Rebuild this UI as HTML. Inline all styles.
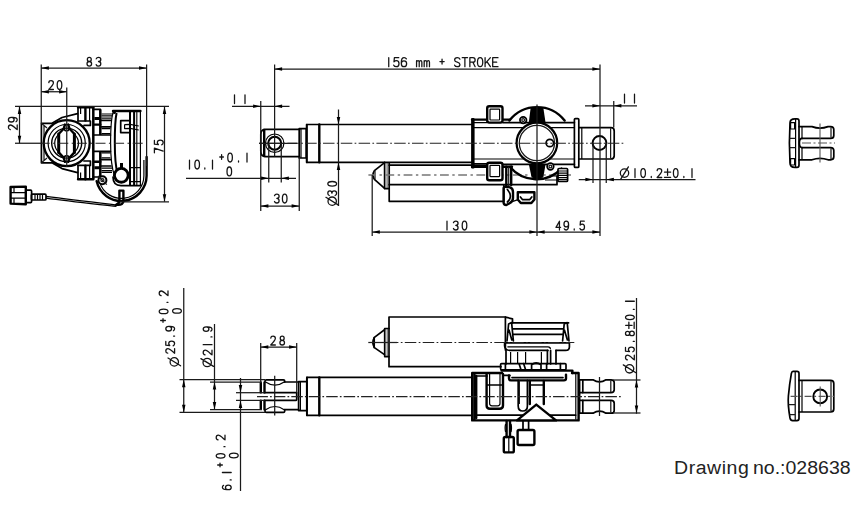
<!DOCTYPE html>
<html><head><meta charset="utf-8"><title>Drawing 028638</title>
<style>
html,body{margin:0;padding:0;background:#fff;}
body{width:860px;height:512px;overflow:hidden;position:relative;font-family:"Liberation Sans",sans-serif;}
svg{position:absolute;left:0;top:0;}
.n{stroke:#1a1a1a;stroke-width:1.25;fill:none;}
.g{stroke:#555;stroke-width:1.1;fill:none;}
.m{stroke:#000;stroke-width:1.2;fill:none;stroke-linejoin:round;}
.k{stroke:#000;stroke-width:1.7;fill:none;stroke-linejoin:round;stroke-linecap:round;}
.kk{stroke:#000;stroke-width:2.4;fill:none;stroke-linejoin:round;stroke-linecap:round;}
.w{fill:#fff;}
.f{fill:#000;stroke:none;}
.c{stroke:#222;stroke-width:1.05;fill:none;stroke-dasharray:11 2.5 2 2.5;}
.cg{stroke:#777;stroke-width:1.6;fill:none;stroke-dasharray:9.5 3 3 3;}
.t{stroke:#141414;stroke-width:1.28;fill:none;stroke-linecap:round;stroke-linejoin:round;}
.a{fill:#000;stroke:none;}
.cap{position:absolute;top:457.8px;font-size:17.6px;color:#222;white-space:nowrap;transform-origin:0 0;transform:scaleX(1.108);}
</style></head>
<body>
<svg width="860" height="512" viewBox="0 0 860 512">
<path class="kk" d="M96.6,181.1 A25.3,25.3 0 0 0 146.6,175.8 L146.6,157"/>
<path class="m" d="M99.7,182.4 A22.6,22.6 0 0 0 143.9,175.8 L143.9,160"/>
<path class="k" d="M41.4,123.3 L52,123.3 L62,117.5 L77.5,113.6 M41.4,123.3 L41.4,162.8 L52,162.8 L62,168.6 L77.5,172.6"/>
<path class="n" d="M44,126 L44,160 M41.4,123.3 L47,128 M41.4,162.8 L47,158"/>
<path class="kk" d="M78,107.2 L93.3,107.2 M78,179.2 L93.3,179.2"/>
<path class="k" d="M78,107.2 L78,121 M78,179.2 L78,165.4"/>
<path d="M93.3,107.2 L93.3,179.2" stroke="#000" stroke-width="2.5" fill="none"/>
<path class="kk" d="M85.4,107.2 L85.4,120.6 M85.4,179.2 L85.4,165.8"/>
<path class="m" d="M80.6,108 L80.6,114 M80.6,178.4 L80.6,172.4"/>
<path class="k" d="M78,121 L90.4,121 L90.4,125.4 L84,125.4 M78,165.4 L90.4,165.4 L90.4,161.0 L84,161.0"/>
<path class="m" d="M89.6,108 L89.6,121 M89.6,178.4 L89.6,165.4"/>
<path class="k" d="M93.3,109.4 L100.4,109.4 M93.3,177.0 L100.4,177.0"/>
<path d="M100.3,109.4 L100.3,135 M100.3,177.0 L100.3,151.4" stroke="#000" stroke-width="2.5" fill="none"/>
<path d="M94.4,118.6 L100.3,118.6 M94.4,167.8 L100.3,167.8" stroke="#000" stroke-width="3" fill="none"/>
<path class="kk" d="M94.4,124.6 L100.3,124.6 M94.4,161.8 L100.3,161.8"/>
<path class="k" d="M94.4,135 L110.4,135 M94.4,151.4 L110.4,151.4"/>
<path class="m" d="M101.5,114 L113.4,114 M101.5,115.8 L112.4,115.8 M101.5,118.2 L111.4,118.2 M101.5,172.4 L112,172.4 M101.5,170.6 L112,170.6 M101.5,168.2 L112,168.2"/>
<path class="k" d="M101.5,120.4 L110.6,120.4 M101.5,126.8 L110.4,126.8 M101.5,166.0 L111,166.0 M101.5,159.6 L110.6,159.6"/>
<path class="m" d="M101.5,128.6 L110.4,128.6 M101.5,133.6 L110.4,133.6 M101.5,157.8 L110.4,157.8 M101.5,152.8 L110.4,152.8"/>
<path class="kk" d="M113,111 L140.4,111"/>
<path class="m" d="M140.4,111 L140.4,186"/>
<path class="m" d="M113.4,111.4 C111,118 110.6,128 110.6,143 C110.6,158 111.6,168 114.6,176"/>
<path d="M116.6,113 C115,120 114.8,130 114.8,143 C114.8,156 115.4,166 117.6,174" stroke="#000" stroke-width="2" fill="none"/>
<circle class="f" cx="114.4" cy="112.6" r="1.5"/>
<path d="M130,111 L130,186 M134.1,111 L134.1,186" stroke="#000" stroke-width="2" fill="none"/>
<path class="n" d="M136.8,112 L136.8,186"/>
<path class="k" d="M130,120.6 L120.7,120.6 L120.7,132.6 L130,132.6"/>
<path class="m" d="M124.6,124.6 L130,124.4 L138.8,126 M124.6,124.6 L124.6,128.6 L130,128.4 L138.8,130"/>
<path class="m" d="M130,167.6 L140.4,167.6 M130,181.6 L140.4,181.6"/>
<circle class="w" cx="66.7" cy="143.1" r="23"/>
<circle cx="66.7" cy="143.1" r="23" fill="none" stroke="#000" stroke-width="2.3"/>
<circle class="m" cx="66.7" cy="143.1" r="18.6"/>
<circle cx="66.7" cy="143.1" r="15" fill="none" stroke="#000" stroke-width="1.4"/>
<path class="m" d="M58.2,134.8 A11.9,11.9 0 0 0 58.2,151.6 M75,134.8 A11.9,11.9 0 0 1 75,151.6"/>
<path d="M58.7,134 L58.7,152.4 M74.4,134 L74.4,152.4" stroke="#000" stroke-width="3" fill="none" stroke-linecap="round"/>
<path class="kk" d="M58.7,134 L63.6,128.8 L65,124.6 M74.4,134 L69.6,128.8 L68.2,124.6 M58.7,152.4 L63.6,157.6 L65,161.8 M74.4,152.4 L69.6,157.6 L68.2,161.8"/>
<path class="k" d="M63.6,128.8 L65.4,130.6 M69.6,128.8 L67.8,130.6 M63.6,157.6 L65.4,155.8 M69.6,157.6 L67.8,155.8"/>
<line class="c" x1="41" y1="143.2" x2="143" y2="143.2" style="stroke-dasharray:10 3.4 1.8 3.4;stroke-dashoffset:1.3"/>
<path class="f" d="M120,163 L120,168 L123,168 L123,163 Z"/>
<circle class="w" cx="121.3" cy="175.3" r="6.9"/>
<circle cx="121.3" cy="175.3" r="6.9" fill="none" stroke="#000" stroke-width="2.9"/>
<path class="k" d="M113,177 C113,182.6 116,185.6 121,185.6 L140.4,185.6"/>
<circle class="w" cx="102.4" cy="180.2" r="4"/>
<circle cx="102.4" cy="180.2" r="4" fill="none" stroke="#000" stroke-width="2"/>
<circle class="n" cx="102.4" cy="180.2" r="1.5"/>
<path class="n" d="M98,176 L106.8,184.6"/>
<path class="kk" d="M119.4,190.6 L123.4,190.6 L123.4,201.3 C123.4,203.5 121,204.8 118.4,204.8 L116,204.8 C118,204 119.4,203 119.4,200.5 Z"/>
<path class="m" d="M46,196.4 C70,199.6 95,202.4 117.8,205 M46,198.2 C70,201.6 95,204 116.5,206.4"/>
<rect class="k" x="31.4" y="194.2" width="14.6" height="5.8" rx="1"/>
<path class="m" d="M35,194.2 L35,200 M37.5,194.2 L37.5,200 M40,194.2 L40,200 M42.5,194.2 L42.5,200"/>
<rect class="k" x="25.8" y="190.2" width="5.8" height="12.4" rx="1"/>
<path class="kk" d="M10.6,187 L25.8,186.6 L25.8,204.2 L10.6,203.6 Z"/>
<path class="m" d="M10.6,192.6 L25.8,192.6 M10.6,198.2 L25.8,198.2 M14,187 L14,192.6 M14,198.2 L14,203.6"/>
<path class="k" d="M389.2,163 L389.2,201.3 L503.8,201.3 L503.8,185"/>
<path class="k" d="M389.2,184.7 L557,184.7 L557,176"/>
<path class="k" d="M389.2,165.2 L487,165.2"/>
<path class="k" d="M384.6,162.4 L384.6,188.6 M384.6,188.6 L389.2,188.6"/>
<path d="M387.1,163 L387.1,188" stroke="#222" stroke-width=".8" fill="none"/>
<path class="k" d="M384.6,162.6 L374.4,170.6 Q371.6,175 374.4,179.4 L384.6,188.4"/>
<path class="n" d="M375,170.6 L375,179.4"/>
<line class="cg" x1="368.4" y1="175" x2="571" y2="175" style="stroke-dasharray:8.8 3.5 2.4 3.5;stroke-dashoffset:1.2"/>
<path class="k" d="M299.5,129.4 L265.5,129.4 Q260.8,129.4 260.8,134.4 L260.8,151.6 Q260.8,156.6 265.5,156.6 L299.5,156.6"/>
<path class="kk" d="M264.2,130 L264.2,156"/>
<rect class="k" x="299.2" y="128.7" width="7" height="29.3" rx="0"/>
<path class="m" d="M301,128.8 L301,158"/>
<path class="k" d="M472,124.5 L306.6,124.5 L306.6,162.3 L472,162.3"/>
<path class="k" d="M306.9,124.5 L306.9,162.3"/>
<path class="kk" d="M319.3,124.5 L319.3,162.3"/>
<circle class="m" cx="274.7" cy="143.2" r="9.2"/>
<circle cx="274.7" cy="143.25" r="6.5" fill="none" stroke="#000" stroke-width="2.1"/>
<path class="kk" d="M509.4,120.6 A35,35 0 0 1 564.6,120.6"/>
<path class="kk" d="M510,167 A34.7,34.7 0 0 0 561.5,168.6"/>
<rect class="w" x="558" y="168.5" width="9.6" height="13" rx="0"/>
<rect class="k" x="558" y="168.5" width="9.6" height="13" rx="1"/>
<path class="m" d="M558,171 L567.6,171 M558,173.2 L567.6,173.2 M558,175.4 L567.6,175.4 M558,177.6 L567.6,177.6 M558,179.6 L567.6,179.6"/>
<path class="m" d="M545,180 L558,180 M552,176 L558,176"/>
<path class="kk" d="M472.3,119.2 L472.3,167.2"/>
<path class="kk" d="M473.4,119.2 L473.4,167.2"/>
<path class="kk" d="M472,119.6 L510,119.6 M472,166.8 L512,166.8"/>
<path class="k" d="M503,122.6 L574.4,122.6 M503,164.4 L574.4,164.4"/>
<path class="m" d="M474,127.7 L574.4,127.7 M474,159 L574.4,159"/>
<path class="m" d="M474,122.6 L487,122.6 M474,163.6 L487,163.6"/>
<rect class="k" x="574.4" y="118.6" width="4.4" height="48.8" rx="1"/>
<path class="k" d="M578.8,127.7 L611,127.7 Q614.2,127.7 614.2,131 L614.2,155.7 Q614.2,159 611,159 L578.8,159"/>
<path class="m" d="M581.8,127.7 L581.8,159"/>
<path class="n" d="M610.6,128.2 L610.6,158.5"/>
<circle class="w" cx="599.5" cy="143" r="6.9"/>
<circle cx="599.5" cy="143" r="6.9" fill="none" stroke="#000" stroke-width="2"/>
<rect class="w" x="487.2" y="106.2" width="15.3" height="16.4" rx="0"/>
<rect class="kk" x="487.2" y="106.2" width="15.3" height="16.4" rx="2"/>
<rect class="m" x="490" y="109.2" width="9.6" height="10.8" rx="0.5"/>
<rect class="w" x="487.2" y="162.8" width="15.3" height="17.4" rx="0"/>
<rect class="kk" x="487.2" y="162.8" width="15.3" height="17.4" rx="2"/>
<rect class="m" x="490" y="165.4" width="9.6" height="11.2" rx="0.5"/>
<path class="kk" d="M506.3,166.8 L506.3,187 M511.2,166.8 L511.2,185"/>
<path class="n" d="M508.7,167 L508.7,186"/>
<path class="f" d="M530.6,108.2 Q537,106 543.4,108.2 L545.6,123 L528.8,123 Z"/>
<path class="f" d="M528.8,164 L545.6,164 L543.3,177.6 Q537,179.8 531.6,177.6 Z"/>
<circle class="w" cx="536.9" cy="143" r="20.6"/>
<circle cx="536.9" cy="143" r="20.3" fill="none" stroke="#000" stroke-width="2.2"/>
<circle class="n" cx="536.9" cy="143" r="17.6"/>
<circle class="k" cx="549.8" cy="143" r="3.7"/>
<circle class="w" cx="523.2" cy="120.1" r="3.3"/>
<circle class="k" cx="523.2" cy="120.1" r="3.3"/>
<circle class="n" cx="523.2" cy="120.1" r="1.4"/>
<circle class="w" cx="550.4" cy="166.5" r="3.3"/>
<circle class="k" cx="550.4" cy="166.5" r="3.3"/>
<circle class="n" cx="550.4" cy="166.5" r="1.4"/>
<line class="n" x1="259" y1="143.25" x2="297" y2="143.25"/>
<line class="c" x1="259" y1="143.25" x2="624" y2="143.25" style="stroke-dasharray:11.5 2.3 1.7 2.3;stroke-dashoffset:7.2"/>
<path class="kk" d="M503.6,188.4 Q503.6,186.6 506,186.6 L510,187.4 Q513,188.4 513,192 L513,198 Q513,201.4 510,203 L506.4,205 Q503.6,205 503.6,202.6 Z"/>
<path class="k" d="M507.4,189.5 Q510.4,193 510.4,196 Q510.4,199.5 507.4,202"/>
<path class="m" d="M513,201.4 L518,199.6"/>
<path class="kk" d="M517.8,192.2 L534.4,192.2 L534.4,199.4 L531.4,203 L520.8,203 L517.8,199.4 Z"/>
<path class="k" d="M520.4,197 L522.4,199.6 L529.8,199.6 L531.8,197"/>
<path class="k" d="M389,317 L505.4,317 M389,317 L389,366.7 L501,366.7"/>
<path class="k" d="M384.7,328.5 L384.7,356.6 M384.7,328.5 L389,328.5 M384.7,356.6 L389,356.6"/>
<path d="M387.2,329 L387.2,356" stroke="#222" stroke-width=".8" fill="none"/>
<path class="k" d="M384.5,329.8 L374.4,337.4 Q371.4,342.5 374.4,347.6 L384.5,354.6"/>
<path class="k" d="M374.2,337.6 L374.2,347.4"/>
<path class="k" d="M505.4,317 L505.4,350 M505.4,317.2 L512.5,318.8 L512.5,323"/>
<path class="k" d="M512,322.8 L568.6,322.8 M513,328.8 L563,328.8 M513,334.4 L563,334.4"/>
<path class="k" d="M504.6,342.8 L569.4,342.8 L569.4,347 Q569.4,350.4 565.5,350.4 L556,350.4 M504.6,342.8 L504.6,346 Q505,350.4 510,350.4 L548,350.4"/>
<path class="m" d="M507.4,346.8 L548,346.8 Q550.4,346.8 550.4,349"/>
<path class="k" d="M507,341 L508.6,324 L511.6,322.6 L513.4,341 M509,330 L511.8,340 M562.6,341 L564.2,324 L567.2,322.6 L569,341 M564.4,330 L567.4,340"/>
<path class="k" d="M506,350.4 L506,364 M550.6,350.4 L550.6,364 M556,350.4 L556,364 M547.4,350.4 L547.4,364"/>
<path class="m" d="M510.6,352 L510.6,364 M517.6,352 L517.6,364 M525.6,352 L525.6,364 M541.4,352 L541.4,364"/>
<rect class="k" x="500.6" y="363.6" width="65.4" height="6.2" rx="1"/>
<path class="k" d="M505.4,363.6 L505.4,369.8 M519,363.6 L521,369.8 M523.6,363.6 L525.6,369.8 M531.6,364.8 L531.6,369.8 M531.6,364.8 Q536,361 541,364.8 L541,369.8 M546.6,363.6 L546.6,369.8 M560.4,363.6 L560.4,369.8"/>
<path class="kk" d="M501.6,370.6 L572.4,370.6 L572.4,373"/>
<path class="kk" d="M509,375.4 L509,378.6 Q509,380.4 511,380.4 L564,380.4 Q566,380.4 566,378.6 L566,374.6"/>
<path class="k" d="M503,375.4 L510,375.4 M512,377.6 L563,377.6"/>
<path class="kk" d="M472.2,373 L502,373 M572,373 L578.6,373 L578.6,420.4 L472.2,420.4 L472.2,373"/>
<path class="kk" d="M474.4,374 L474.4,419.6"/>
<path class="kk" d="M476.2,376 L476.2,418"/>
<path class="k" d="M475,376 L487,376 M475,415.2 L575.6,415.2"/>
<path class="m" d="M575.8,374 L575.8,419.6"/>
<path class="k" d="M472,377.4 L306.8,377.4 L306.8,415.3 L472,415.3"/>
<path class="k" d="M307,377.4 L307,415.3"/>
<path class="kk" d="M319.3,377.4 L319.3,415.3"/>
<rect class="k" x="298.6" y="381.6" width="8.2" height="29" rx="0"/>
<path class="m" d="M300.4,381.6 L300.4,410.6"/>
<path class="k" d="M298.6,382 L284.7,382 M298.6,409.6 L284.7,409.6"/>
<path class="kk" d="M260.8,383 L260.8,392.4 M264.5,382.4 L264.5,392.4 M260.8,400.8 L260.8,408.8 M264.5,400.8 L264.5,409.4"/>
<path class="k" d="M265,382 L265,381 Q265,379.8 266.4,379.8 L283.4,379.8 Q284.7,379.8 284.7,381 L284.7,382 M265,409.6 L265,411.2 Q265,412.4 266.4,412.4 L283.4,412.4 Q284.7,412.4 284.7,411.2 L284.7,409.6"/>
<path class="m" d="M265.6,382 Q275,388.4 284.2,382 M265.6,409.8 Q275,403.2 284.2,409.8"/>
<path class="k" d="M264.5,392.7 L296.7,392.7 L296.7,399.4 Q296.7,400.4 295.6,400.4 L264.5,400.4"/>
<path class="n" d="M274.7,375.7 L274.7,415.6"/>
<path class="kk" d="M486.6,374 L486.6,405.6 Q486.6,408.8 490,408.8 L499.6,408.8 Q503,408.8 503,405.6 L503,374"/>
<path class="m" d="M489.6,374 L489.6,403.6 Q489.6,405.8 492,405.8 L497.6,405.8 Q500,405.8 500,403.6 L500,374"/>
<path class="k" d="M487,385 L503,385"/>
<path class="k" d="M518.2,380.4 L518.2,406 Q518.2,411 522.8,411 Q527.4,411 527.4,406 L527.4,380.4"/>
<path class="kk" d="M529.8,381 L529.8,404 M543.8,381 L543.8,404"/>
<path class="k" d="M529.8,385 L543.8,385"/>
<path class="n" d="M519.4,380.4 L519.4,404"/>
<path class="w" d="M536.3,404.6 L517,420.4 L556,420.4 Z"/>
<path class="kk" d="M536.3,404.6 L517,420.4 L556,420.4 Z"/>
<path class="k" d="M579.6,379.8 L593,379.8 Q599.5,384 606,379.8 L611,379.8 Q614.2,379.8 614.2,382.6 L614.2,389.8 Q614.2,392.6 611,392.6 L606,392.6 Q599.5,392.6 593,392.6 L579.6,392.6"/>
<path class="k" d="M579.6,400.4 L593,400.4 Q599.5,400.4 606,400.4 L611,400.4 Q614.2,400.4 614.2,403.2 L614.2,410.4 Q614.2,413.2 611,413.2 L606,413.2 Q599.5,409 593,413.2 L579.6,413.2"/>
<path class="k" d="M579.6,379.8 L579.6,413.2 M582.8,379.8 L582.8,392.6 M582.8,400.4 L582.8,413.2"/>
<path class="n" d="M610.8,380.4 L610.8,392 M610.8,401 L610.8,412.6"/>
<path class="n" d="M599.5,377 L599.5,416"/>
<line class="c" x1="257" y1="396.6" x2="621" y2="396.6" style="stroke-dasharray:11.5 2.15 1.7 2.1;stroke-dashoffset:0.6"/>
<line class="n" x1="368.3" y1="342.5" x2="397" y2="342.5"/>
<line class="c" x1="368.3" y1="342.5" x2="574.3" y2="342.5" style="stroke-dasharray:11.5 2.4 1.7 2.3;stroke-dashoffset:17.2"/>
<path class="kk" d="M506.6,421 L506.6,437 M510,421 L510,437"/>
<path class="m" d="M505.6,424 Q504.6,428 505.6,432 M511,424 Q512,428 511,432"/>
<rect class="kk" x="503.8" y="437" width="10" height="15.4" rx="1.5"/>
<path class="m" d="M508.8,437 L508.8,452.4"/>
<path class="k" d="M523,421 L523,430 M528.6,421 L528.6,430"/>
<rect class="kk" x="517.6" y="430" width="16.8" height="15" rx="1.5"/>
<path class="k" d="M795,118.8 Q790,118.8 790,123 L789.4,143 L790,163 Q790,167.4 795,167.4 L797,167.4 Q799,167.4 799,165 L799,121 Q799,118.8 797,118.8 Z"/>
<path class="m" d="M795.6,118.8 L795.6,167.4"/>
<rect class="m" x="790.6" y="122.6" width="4" height="6.4" rx="0"/>
<rect class="m" x="790.6" y="158.6" width="4" height="6.4" rx="0"/>
<path class="n" d="M789.6,138.4 L795.6,138.4 M789.6,147.6 L795.6,147.6"/>
<path class="k" d="M799,126.6 L812,126.6 Q820,129.6 828,126.6 L830.6,126.6 Q833.8,126.6 833.8,129.6 L833.8,135.4 Q833.8,138.4 830.6,138.4 L828,138.4 Q820,138.4 812,138.4 L802,138.4"/>
<path class="k" d="M799,159.8 L812,159.8 Q820,156.8 828,159.8 L830.6,159.8 Q833.8,159.8 833.8,156.8 L833.8,150.6 Q833.8,147.6 830.6,147.6 L828,147.6 Q820,147.6 812,147.6 L802,147.6"/>
<path class="k" d="M802,138.4 Q799.4,138.4 799.4,143 Q799.4,147.6 802,147.6"/>
<path class="m" d="M802,126.6 L802,138.4 M802,147.6 L802,159.8"/>
<path class="n" d="M831,127.2 L831,137.8 M831,148.2 L831,159.2"/>
<line class="g" x1="820" y1="123.5" x2="820" y2="162.5"/>
<line class="g" x1="802" y1="143" x2="835" y2="143" style="stroke-dasharray:9 2.5 2 2.5"/>
<path class="k" d="M793,371.4 L797,371.4 Q799,371.4 799,373.4 L799,418.6 Q799,420.6 797,420.6 L792.6,420.6 Q790.6,420.6 790,418 Q787.6,404 788.4,396 Q789.6,383 791.4,373.4 Q791.8,371.4 793,371.4 Z"/>
<path class="m" d="M795.2,371.6 L795.2,420.4"/>
<path class="n" d="M788.6,404.6 L795.2,404.6 M789.6,414.6 L795.2,414.6"/>
<path class="k" d="M799,380.4 L830.6,380.4 Q833.8,380.4 833.8,383.4 L833.8,409 Q833.8,412 830.6,412 L799,412"/>
<path class="m" d="M802,380.4 L802,412"/>
<path class="n" d="M831,381 L831,411.4"/>
<circle cx="820.2" cy="396.4" r="6.9" fill="none" stroke="#000" stroke-width="1.9"/>
<line class="g" x1="820.2" y1="386.4" x2="820.2" y2="406.6"/>
<line class="g" x1="790.6" y1="396.4" x2="835" y2="396.4" style="stroke-dasharray:7 2.5 2 2.5"/>
<line class="n" x1="41.25" y1="64.5" x2="41.25" y2="123.5"/>
<line class="n" x1="146.6" y1="64.5" x2="146.6" y2="166"/>
<line class="n" x1="41.25" y1="68" x2="146.6" y2="68"/>
<polygon class="a" points="41.25,68.00 48.85,66.25 48.85,69.75"/>
<polygon class="a" points="146.60,68.00 139.00,66.25 139.00,69.75"/>
<path class="t" d="M 89.30,61.51 C 88.03,61.51 87.34,60.63 87.34,59.45 C 87.34,58.28 88.03,57.40 89.30,57.40 C 90.56,57.40 91.25,58.28 91.25,59.45 C 91.25,60.63 90.56,61.51 89.30,61.51 C 87.92,61.51 87.00,62.39 87.00,63.85 C 87.00,65.32 87.92,66.20 89.30,66.20 C 90.68,66.20 91.60,65.32 91.60,63.85 C 91.60,62.39 90.68,61.51 89.30,61.51 M 96.20,58.87 C 96.55,57.84 97.35,57.40 98.50,57.40 C 99.88,57.40 100.80,58.13 100.80,59.45 C 100.80,60.92 99.88,61.51 98.50,61.51 C 100.00,61.51 100.80,62.39 100.80,63.85 C 100.80,65.32 99.88,66.20 98.50,66.20 C 97.35,66.20 96.55,65.76 96.20,64.73"/>
<line class="n" x1="66.75" y1="87.5" x2="66.75" y2="167"/>
<line class="n" x1="41.25" y1="91.75" x2="66.75" y2="91.75"/>
<polygon class="a" points="41.25,91.75 48.85,90.00 48.85,93.50"/>
<polygon class="a" points="66.75,91.75 59.15,90.00 59.15,93.50"/>
<path class="t" d="M 48.80,82.61 C 48.91,81.29 49.83,80.70 51.10,80.70 C 52.48,80.70 53.40,81.43 53.40,82.90 C 53.40,84.37 52.25,85.39 48.80,89.50 L 53.40,89.50 M 59.50,89.50 C 58.12,89.50 57.20,88.03 57.20,85.10 C 57.20,82.17 58.12,80.70 59.50,80.70 C 60.88,80.70 61.80,82.17 61.80,85.10 C 61.80,88.03 60.88,89.50 59.50,89.50 Z"/>
<line class="n" x1="15" y1="106.4" x2="169" y2="106.4"/>
<line class="n" x1="15" y1="143.25" x2="41" y2="143.25"/>
<line class="n" x1="19.5" y1="106.4" x2="19.5" y2="143.25"/>
<polygon class="a" points="19.50,106.40 17.75,114.00 21.25,114.00"/>
<polygon class="a" points="19.50,143.25 17.75,135.65 21.25,135.65"/>
<path class="t" d="M 10.31,129.60 C 8.99,129.48 8.40,128.56 8.40,127.30 C 8.40,125.92 9.13,125.00 10.60,125.00 C 12.07,125.00 13.09,126.15 17.20,129.60 L 17.20,125.00 M 16.03,121.77 C 16.76,121.42 17.20,120.73 17.20,119.81 C 17.20,118.32 15.44,117.40 12.80,117.40 L 11.33,117.40 C 9.57,117.40 8.40,118.32 8.40,119.70 C 8.40,121.08 9.57,122.00 11.33,122.00 C 13.09,122.00 14.12,121.08 14.12,119.70 C 14.12,118.32 12.95,117.40 11.33,117.40"/>
<line class="n" x1="164.5" y1="106.4" x2="164.5" y2="201.75"/>
<polygon class="a" points="164.50,106.40 162.75,114.00 166.25,114.00"/>
<polygon class="a" points="164.50,201.75 162.75,194.15 166.25,194.15"/>
<line class="n" x1="120" y1="201.75" x2="169" y2="201.75"/>
<path class="t" d="M 154.40,152.80 L 154.40,148.20 L 163.20,151.08 M 154.40,140.43 L 154.40,144.22 L 158.36,144.57 C 157.63,143.88 157.33,143.19 157.33,142.50 C 157.33,141.12 158.51,140.20 160.27,140.20 C 162.03,140.20 163.20,141.12 163.20,142.50 C 163.20,143.65 162.61,144.45 161.73,144.80"/>
<line class="n" x1="274.6" y1="64.5" x2="274.6" y2="156.6"/>
<line class="n" x1="600" y1="64.5" x2="600" y2="236"/>
<line class="n" x1="274.5" y1="69" x2="600" y2="69"/>
<polygon class="a" points="274.50,69.00 282.10,67.25 282.10,70.75"/>
<polygon class="a" points="600.00,69.00 592.40,67.25 592.40,70.75"/>
<path class="t" d="M 388.75,66.70 L 388.75,57.70 M 398.75,57.70 L 394.38,57.70 L 393.98,61.75 C 394.77,61.00 395.57,60.70 396.36,60.70 C 397.95,60.70 399.01,61.90 399.01,63.70 C 399.01,65.50 397.95,66.70 396.36,66.70 C 395.04,66.70 394.11,66.10 393.71,65.20 M 406.36,58.90 C 405.97,58.15 405.17,57.70 404.11,57.70 C 402.39,57.70 401.33,59.50 401.33,62.20 L 401.33,63.70 C 401.33,65.50 402.39,66.70 403.98,66.70 C 405.57,66.70 406.63,65.50 406.63,63.70 C 406.63,61.90 405.57,60.85 403.98,60.85 C 402.39,60.85 401.33,62.05 401.33,63.70 M 416.56,66.70 L 416.56,60.70 M 416.56,62.20 C 416.95,61.15 417.35,60.70 418.01,60.70 C 418.81,60.70 419.21,61.30 419.21,62.20 L 419.21,66.70 M 419.21,62.20 C 419.60,61.15 420.00,60.70 420.66,60.70 C 421.46,60.70 421.86,61.30 421.86,62.20 L 421.86,66.70 M 424.17,66.70 L 424.17,60.70 M 424.17,62.20 C 424.57,61.15 424.97,60.70 425.63,60.70 C 426.42,60.70 426.82,61.30 426.82,62.20 L 426.82,66.70 M 426.82,62.20 C 427.22,61.15 427.62,60.70 428.28,60.70 C 429.07,60.70 429.47,61.30 429.47,62.20 L 429.47,66.70 M 439.93,61.60 L 444.17,61.60 M 442.05,64.00 L 442.05,59.20 M 459.93,59.20 C 459.53,58.15 458.60,57.70 457.28,57.70 C 455.69,57.70 454.63,58.60 454.63,59.95 C 454.63,61.30 455.69,61.75 457.28,62.20 C 458.87,62.65 459.93,63.10 459.93,64.45 C 459.93,65.80 458.87,66.70 457.28,66.70 C 455.95,66.70 455.03,66.25 454.63,65.20 M 462.24,57.70 L 467.54,57.70 M 464.89,57.70 L 464.89,66.70 M 469.86,66.70 L 469.86,57.70 L 472.90,57.70 C 474.36,57.70 475.16,58.60 475.16,59.95 C 475.16,61.30 474.36,62.20 472.90,62.20 L 469.86,62.20 M 472.90,62.20 L 475.16,66.70 M 480.12,66.70 C 478.53,66.70 477.47,65.20 477.47,62.20 C 477.47,59.20 478.53,57.70 480.12,57.70 C 481.71,57.70 482.77,59.20 482.77,62.20 C 482.77,65.20 481.71,66.70 480.12,66.70 Z M 485.09,66.70 L 485.09,57.70 M 490.39,57.70 L 485.09,63.70 M 486.94,61.60 L 490.39,66.70 M 498.00,57.70 L 492.70,57.70 L 492.70,66.70 L 498.00,66.70 M 492.70,62.20 L 496.68,62.20"/>
<line class="n" x1="232" y1="106.25" x2="289.5" y2="106.25"/>
<polygon class="a" points="260.75,106.25 253.15,104.50 253.15,108.00"/>
<polygon class="a" points="274.50,106.25 282.10,104.50 282.10,108.00"/>
<line class="n" x1="260.75" y1="101" x2="260.75" y2="211"/>
<path class="t" d="M 234.50,103.60 L 234.50,94.80 M 245.00,103.60 L 245.00,94.80"/>
<line class="n" x1="186" y1="178.25" x2="296" y2="178.25"/>
<polygon class="a" points="268.75,178.25 261.15,176.50 261.15,180.00"/>
<polygon class="a" points="281.25,178.25 288.85,176.50 288.85,180.00"/>
<line class="n" x1="268.75" y1="143" x2="268.75" y2="182.5"/>
<line class="n" x1="281.25" y1="143" x2="281.25" y2="182.5"/>
<path class="t" d="M 189.50,169.00 L 189.50,160.20 M 197.17,169.00 C 195.79,169.00 194.87,167.53 194.87,164.60 C 194.87,161.67 195.79,160.20 197.17,160.20 C 198.55,160.20 199.47,161.67 199.47,164.60 C 199.47,167.53 198.55,169.00 197.17,169.00 Z M 204.83,169.00 L 204.83,167.97 M 212.50,169.00 L 212.50,160.20"/>
<path class="t" d="M 219.76,157.01 L 223.44,157.01 M 221.60,159.36 L 221.60,154.67 M 230.07,162.00 C 228.69,162.00 227.77,160.53 227.77,157.60 C 227.77,154.67 228.69,153.20 230.07,153.20 C 231.45,153.20 232.37,154.67 232.37,157.60 C 232.37,160.53 231.45,162.00 230.07,162.00 Z M 238.53,162.00 L 238.53,160.97 M 247.00,162.00 L 247.00,153.20"/>
<path class="t" d="M 229.30,175.80 C 227.92,175.80 227.00,174.33 227.00,171.40 C 227.00,168.47 227.92,167.00 229.30,167.00 C 230.68,167.00 231.60,168.47 231.60,171.40 C 231.60,174.33 230.68,175.80 229.30,175.80 Z"/>
<line class="n" x1="260.75" y1="206" x2="299.25" y2="206"/>
<polygon class="a" points="260.75,206.00 268.35,204.25 268.35,207.75"/>
<polygon class="a" points="299.25,206.00 291.65,204.25 291.65,207.75"/>
<line class="n" x1="299.25" y1="157" x2="299.25" y2="211"/>
<path class="t" d="M 274.50,195.67 C 274.85,194.64 275.65,194.20 276.80,194.20 C 278.18,194.20 279.10,194.93 279.10,196.25 C 279.10,197.72 278.18,198.31 276.80,198.31 C 278.30,198.31 279.10,199.19 279.10,200.65 C 279.10,202.12 278.18,203.00 276.80,203.00 C 275.65,203.00 274.85,202.56 274.50,201.53 M 284.70,203.00 C 283.32,203.00 282.40,201.53 282.40,198.60 C 282.40,195.67 283.32,194.20 284.70,194.20 C 286.08,194.20 287.00,195.67 287.00,198.60 C 287.00,201.53 286.08,203.00 284.70,203.00 Z"/>
<line class="n" x1="338.5" y1="109.5" x2="338.5" y2="206"/>
<polygon class="a" points="338.50,124.60 336.75,117.00 340.25,117.00"/>
<polygon class="a" points="338.50,162.30 336.75,169.90 340.25,169.90"/>
<path class="t" d="M328.0,201.2 a4.2,4.2 0 1 0 8.4,0 a4.2,4.2 0 1 0 -8.4,0 M338.5,205.1 L325.9,197.29999999999998"/>
<path class="t" d="M 329.27,195.50 C 328.24,195.16 327.80,194.35 327.80,193.20 C 327.80,191.82 328.53,190.90 329.85,190.90 C 331.32,190.90 331.91,191.82 331.91,193.20 C 331.91,191.71 332.79,190.90 334.25,190.90 C 335.72,190.90 336.60,191.82 336.60,193.20 C 336.60,194.35 336.16,195.16 335.13,195.50 M 336.60,183.80 C 336.60,185.18 335.13,186.10 332.20,186.10 C 329.27,186.10 327.80,185.18 327.80,183.80 C 327.80,182.42 329.27,181.50 332.20,181.50 C 335.13,181.50 336.60,182.42 336.60,183.80 Z"/>
<line class="n" x1="585" y1="105.75" x2="637" y2="105.75"/>
<polygon class="a" points="600.00,105.75 592.40,104.00 592.40,107.50"/>
<polygon class="a" points="613.75,105.75 621.35,104.00 621.35,107.50"/>
<line class="n" x1="613.75" y1="101" x2="613.75" y2="127.5"/>
<path class="t" d="M 624.50,103.00 L 624.50,94.20 M 634.50,103.00 L 634.50,94.20"/>
<line class="n" x1="578.75" y1="179.5" x2="695.5" y2="179.5"/>
<polygon class="a" points="593.00,179.50 585.40,177.75 585.40,181.25"/>
<polygon class="a" points="606.25,179.50 613.85,177.75 613.85,181.25"/>
<line class="n" x1="593" y1="143" x2="593" y2="183"/>
<line class="n" x1="606.25" y1="143" x2="606.25" y2="183"/>
<path class="t" d="M620.3,173.1 a4.2,4.2 0 1 0 8.4,0 a4.2,4.2 0 1 0 -8.4,0 M620.6,179.4 L628.4,166.79999999999998"/>
<path class="t" d="M 635.00,177.50 L 635.00,168.70 M 643.14,177.50 C 641.76,177.50 640.84,176.03 640.84,173.10 C 640.84,170.17 641.76,168.70 643.14,168.70 C 644.52,168.70 645.44,170.17 645.44,173.10 C 645.44,176.03 644.52,177.50 643.14,177.50 Z M 651.29,177.50 L 651.29,176.47 M 657.13,170.61 C 657.24,169.29 658.16,168.70 659.43,168.70 C 660.81,168.70 661.73,169.43 661.73,170.90 C 661.73,172.37 660.58,173.39 657.13,177.50 L 661.73,177.50 M 664.47,172.07 L 670.68,172.07 M 667.57,175.30 L 667.57,168.85 M 664.47,177.35 L 670.68,177.35 M 675.71,177.50 C 674.33,177.50 673.41,176.03 673.41,173.10 C 673.41,170.17 674.33,168.70 675.71,168.70 C 677.09,168.70 678.01,170.17 678.01,173.10 C 678.01,176.03 677.09,177.50 675.71,177.50 Z M 683.86,177.50 L 683.86,176.47 M 692.00,177.50 L 692.00,168.70"/>
<line class="n" x1="372.2" y1="175" x2="372.2" y2="236"/>
<line class="n" x1="537" y1="104.5" x2="537" y2="236"/>
<line class="n" x1="372.2" y1="232" x2="600" y2="232"/>
<polygon class="a" points="372.20,232.00 379.80,230.25 379.80,233.75"/>
<polygon class="a" points="537.00,232.00 529.40,230.25 529.40,233.75"/>
<polygon class="a" points="537.00,232.00 544.60,230.25 544.60,233.75"/>
<polygon class="a" points="600.00,232.00 592.40,230.25 592.40,233.75"/>
<path class="t" d="M 447.00,230.00 L 447.00,221.20 M 453.45,222.67 C 453.80,221.64 454.60,221.20 455.75,221.20 C 457.13,221.20 458.05,221.93 458.05,223.25 C 458.05,224.72 457.13,225.31 455.75,225.31 C 457.25,225.31 458.05,226.19 458.05,227.65 C 458.05,229.12 457.13,230.00 455.75,230.00 C 454.60,230.00 453.80,229.56 453.45,228.53 M 464.50,230.00 C 463.12,230.00 462.20,228.53 462.20,225.60 C 462.20,222.67 463.12,221.20 464.50,221.20 C 465.88,221.20 466.80,222.67 466.80,225.60 C 466.80,228.53 465.88,230.00 464.50,230.00 Z"/>
<path class="t" d="M 559.45,230.00 L 559.45,221.20 L 556.00,227.36 L 560.60,227.36 M 564.20,228.83 C 564.54,229.56 565.23,230.00 566.15,230.00 C 567.65,230.00 568.57,228.24 568.57,225.60 L 568.57,224.13 C 568.57,222.37 567.65,221.20 566.27,221.20 C 564.89,221.20 563.97,222.37 563.97,224.13 C 563.97,225.89 564.89,226.92 566.27,226.92 C 567.65,226.92 568.57,225.75 568.57,224.13 M 574.23,230.00 L 574.23,228.97 M 584.27,221.20 L 580.48,221.20 L 580.13,225.16 C 580.82,224.43 581.51,224.13 582.20,224.13 C 583.58,224.13 584.50,225.31 584.50,227.07 C 584.50,228.83 583.58,230.00 582.20,230.00 C 581.05,230.00 580.25,229.41 579.90,228.53"/>
<line class="n" x1="183.75" y1="288" x2="183.75" y2="412.4"/>
<polygon class="a" points="183.75,379.60 182.00,387.20 185.50,387.20"/>
<polygon class="a" points="183.75,412.40 182.00,404.80 185.50,404.80"/>
<line class="n" x1="179.5" y1="379.6" x2="265" y2="379.6"/>
<line class="n" x1="179.5" y1="412.4" x2="265" y2="412.4"/>
<line class="n" x1="214.5" y1="324" x2="214.5" y2="409.6"/>
<polygon class="a" points="214.50,382.00 212.75,389.60 216.25,389.60"/>
<polygon class="a" points="214.50,409.60 212.75,402.00 216.25,402.00"/>
<line class="n" x1="210" y1="382" x2="262" y2="382"/>
<line class="n" x1="210" y1="409.6" x2="262" y2="409.6"/>
<line class="n" x1="240.5" y1="378" x2="240.5" y2="491"/>
<polygon class="a" points="240.50,392.70 238.75,385.10 242.25,385.10"/>
<polygon class="a" points="240.50,400.40 238.75,408.00 242.25,408.00"/>
<line class="n" x1="236" y1="392.7" x2="264.5" y2="392.7"/>
<line class="n" x1="236" y1="400.4" x2="264.5" y2="400.4"/>
<line class="n" x1="260.7" y1="343" x2="260.7" y2="383"/>
<line class="n" x1="296.7" y1="343" x2="296.7" y2="392.7"/>
<line class="n" x1="260.7" y1="347" x2="296.7" y2="347"/>
<polygon class="a" points="260.70,347.00 268.30,345.25 268.30,348.75"/>
<polygon class="a" points="296.70,347.00 289.10,345.25 289.10,348.75"/>
<path class="t" d="M 270.75,338.11 C 270.87,336.79 271.79,336.20 273.05,336.20 C 274.43,336.20 275.35,336.93 275.35,338.40 C 275.35,339.87 274.20,340.89 270.75,345.00 L 275.35,345.00 M 282.20,340.31 C 280.94,340.31 280.25,339.43 280.25,338.25 C 280.25,337.08 280.94,336.20 282.20,336.20 C 283.46,336.20 284.15,337.08 284.15,338.25 C 284.15,339.43 283.46,340.31 282.20,340.31 C 280.82,340.31 279.90,341.19 279.90,342.65 C 279.90,344.12 280.82,345.00 282.20,345.00 C 283.58,345.00 284.50,344.12 284.50,342.65 C 284.50,341.19 283.58,340.31 282.20,340.31"/>
<path class="t" d="M170.10000000000002,361.9 a4.2,4.2 0 1 0 8.4,0 a4.2,4.2 0 1 0 -8.4,0 M180.60000000000002,365.79999999999995 L168.0,358.0"/>
<path class="t" d="M 167.71,353.20 C 166.39,353.08 165.80,352.16 165.80,350.90 C 165.80,349.52 166.53,348.60 168.00,348.60 C 169.47,348.60 170.49,349.75 174.60,353.20 L 174.60,348.60 M 165.80,341.43 L 165.80,345.23 L 169.76,345.57 C 169.03,344.88 168.73,344.19 168.73,343.50 C 168.73,342.12 169.91,341.20 171.67,341.20 C 173.43,341.20 174.60,342.12 174.60,343.50 C 174.60,344.65 174.01,345.45 173.13,345.80 M 174.60,336.10 L 173.57,336.10 M 173.43,330.77 C 174.16,330.43 174.60,329.74 174.60,328.81 C 174.60,327.32 172.84,326.40 170.20,326.40 L 168.73,326.40 C 166.97,326.40 165.80,327.32 165.80,328.70 C 165.80,330.08 166.97,331.00 168.73,331.00 C 170.49,331.00 171.52,330.08 171.52,328.70 C 171.52,327.32 170.35,326.40 168.73,326.40"/>
<path class="t" d="M 163.01,322.34 L 163.01,318.66 M 165.36,320.50 L 160.67,320.50 M 168.00,311.43 C 168.00,312.81 166.53,313.73 163.60,313.73 C 160.67,313.73 159.20,312.81 159.20,311.43 C 159.20,310.05 160.67,309.13 163.60,309.13 C 166.53,309.13 168.00,310.05 168.00,311.43 Z M 168.00,302.37 L 166.97,302.37 M 161.11,295.60 C 159.79,295.49 159.20,294.56 159.20,293.30 C 159.20,291.92 159.93,291.00 161.40,291.00 C 162.87,291.00 163.89,292.15 168.00,295.60 L 168.00,291.00"/>
<path class="t" d="M 181.40,310.90 C 181.40,312.28 179.93,313.20 177.00,313.20 C 174.07,313.20 172.60,312.28 172.60,310.90 C 172.60,309.52 174.07,308.60 177.00,308.60 C 179.93,308.60 181.40,309.52 181.40,310.90 Z"/>
<path class="t" d="M203.0,362.5 a4.2,4.2 0 1 0 8.4,0 a4.2,4.2 0 1 0 -8.4,0 M213.5,366.4 L200.89999999999998,358.6"/>
<path class="t" d="M 205.11,354.80 C 203.79,354.69 203.20,353.76 203.20,352.50 C 203.20,351.12 203.93,350.20 205.40,350.20 C 206.87,350.20 207.89,351.35 212.00,354.80 L 212.00,350.20 M 212.00,344.70 L 203.20,344.70 M 212.00,336.90 L 210.97,336.90 M 210.83,331.17 C 211.56,330.83 212.00,330.14 212.00,329.22 C 212.00,327.72 210.24,326.80 207.60,326.80 L 206.13,326.80 C 204.37,326.80 203.20,327.72 203.20,329.10 C 203.20,330.48 204.37,331.40 206.13,331.40 C 207.89,331.40 208.92,330.48 208.92,329.10 C 208.92,327.72 207.75,326.80 206.13,326.80"/>
<path class="t" d="M 223.57,485.33 C 222.84,485.68 222.40,486.37 222.40,487.28 C 222.40,488.78 224.16,489.70 226.80,489.70 L 228.27,489.70 C 230.03,489.70 231.20,488.78 231.20,487.40 C 231.20,486.02 230.03,485.10 228.27,485.10 C 226.51,485.10 225.48,486.02 225.48,487.40 C 225.48,488.78 226.65,489.70 228.27,489.70 M 231.20,479.95 L 230.17,479.95 M 231.20,472.50 L 222.40,472.50"/>
<path class="t" d="M 220.01,466.84 L 220.01,463.16 M 222.36,465.00 L 217.67,465.00 M 225.00,455.83 C 225.00,457.21 223.53,458.13 220.60,458.13 C 217.67,458.13 216.20,457.21 216.20,455.83 C 216.20,454.45 217.67,453.53 220.60,453.53 C 223.53,453.53 225.00,454.45 225.00,455.83 Z M 225.00,446.67 L 223.97,446.67 M 218.11,439.80 C 216.79,439.69 216.20,438.76 216.20,437.50 C 216.20,436.12 216.93,435.20 218.40,435.20 C 219.87,435.20 220.89,436.35 225.00,439.80 L 225.00,435.20"/>
<path class="t" d="M 238.20,455.50 C 238.20,456.88 236.73,457.80 233.80,457.80 C 230.87,457.80 229.40,456.88 229.40,455.50 C 229.40,454.12 230.87,453.20 233.80,453.20 C 236.73,453.20 238.20,454.12 238.20,455.50 Z"/>
<line class="n" x1="636.5" y1="298" x2="636.5" y2="413.75"/>
<polygon class="a" points="636.50,380.00 634.75,387.60 638.25,387.60"/>
<polygon class="a" points="636.50,413.00 634.75,405.40 638.25,405.40"/>
<line class="n" x1="613" y1="380" x2="640.5" y2="380"/>
<line class="n" x1="613" y1="413" x2="640.5" y2="413"/>
<path class="t" d="M625.4,368.8 a4.2,4.2 0 1 0 8.4,0 a4.2,4.2 0 1 0 -8.4,0 M635.9,372.7 L623.3000000000001,364.90000000000003"/>
<path class="t" d="M 627.41,359.80 C 626.09,359.69 625.50,358.76 625.50,357.50 C 625.50,356.12 626.23,355.20 627.70,355.20 C 629.17,355.20 630.19,356.35 634.30,359.80 L 634.30,355.20 M 625.50,347.39 L 625.50,351.19 L 629.46,351.53 C 628.73,350.84 628.43,350.15 628.43,349.46 C 628.43,348.08 629.61,347.16 631.37,347.16 C 633.13,347.16 634.30,348.08 634.30,349.46 C 634.30,350.61 633.71,351.42 632.83,351.76 M 634.30,341.43 L 633.27,341.43 M 629.61,333.39 C 629.61,334.66 628.73,335.35 627.55,335.35 C 626.38,335.35 625.50,334.66 625.50,333.39 C 625.50,332.13 626.38,331.44 627.55,331.44 C 628.73,331.44 629.61,332.13 629.61,333.39 C 629.61,334.77 630.49,335.69 631.95,335.69 C 633.42,335.69 634.30,334.77 634.30,333.39 C 634.30,332.01 633.42,331.09 631.95,331.09 C 630.49,331.09 629.61,332.01 629.61,333.39 M 628.87,328.46 L 628.87,322.25 M 632.10,325.36 L 625.65,325.36 M 634.15,328.46 L 634.15,322.25 M 634.30,317.32 C 634.30,318.70 632.83,319.62 629.90,319.62 C 626.97,319.62 625.50,318.70 625.50,317.32 C 625.50,315.94 626.97,315.02 629.90,315.02 C 632.83,315.02 634.30,315.94 634.30,317.32 Z M 634.30,309.29 L 633.27,309.29 M 634.30,301.25 L 625.50,301.25"/>
</svg>
<div class="cap" style="left:673.9px;letter-spacing:.5px">Drawing</div><div class="cap" style="left:752.7px">no.:028638</div>
</body></html>
